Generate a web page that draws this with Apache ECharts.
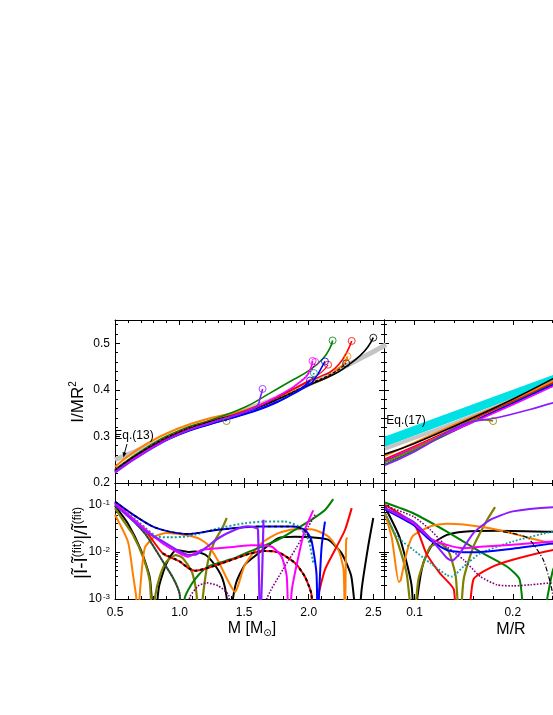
<!DOCTYPE html>
<html><head><meta charset="utf-8">
<script src="https://cdn.jsdelivr.net/npm/echarts@6/dist/echarts.min.js"></script>
<style>html,body{margin:0;padding:0;background:#fff}#c{width:553px;height:715px}</style>
</head><body><div id="c"></div>
<script>
// ---------- tick values ----------
const massTicks = [0.5, 1.0, 1.5, 2.0, 2.5];
const massMinor = [0.6,0.7,0.8,0.9,1.1,1.2,1.3,1.4,1.6,1.7,1.8,1.9,2.1,2.2,2.3,2.4];
const compTicks = [0.1, 0.2, 0.3];
const compMinor = [0.08,0.12,0.14,0.16,0.18,0.22,0.24,0.26,0.28,0.32,0.34];
const inertiaTicks = [0.2, 0.3, 0.4, 0.5];
const inertiaMinor = [0.22,0.24,0.26,0.28,0.32,0.34,0.36,0.38,0.42,0.44,0.46,0.48,0.52,0.54];
const devTicks = [0.001, 0.01, 0.1];
const devMinor = [0.002,0.003,0.004,0.005,0.006,0.007,0.008,0.009,0.02,0.03,0.04,0.05,0.06,0.07,0.08,0.09,0.2];

// ---------- top-left: I/MR^2 vs M ----------
const tlGray = [[0.5,0.25],[0.75,0.278],[1.0,0.308],[1.25,0.332],[1.5,0.356],[1.75,0.382],[2.0,0.412],[2.25,0.446],[2.5,0.482],[2.6,0.497]];
const tlBlack = [[0.5,0.226],[0.6,0.247],[0.75,0.273],[1.0,0.308],[1.25,0.332],[1.5,0.351],[1.75,0.378],[2.0,0.41],[2.2,0.434],[2.3,0.452],[2.4,0.474],[2.46,0.493],[2.5,0.512]];
const tlBlack2 = [[0.5,0.228],[0.75,0.275],[1.0,0.31],[1.25,0.333],[1.5,0.352],[1.75,0.379],[2.0,0.412],[2.2,0.438],[2.29,0.457]];
const tlRed = [[0.5,0.227],[0.75,0.274],[1.0,0.31],[1.25,0.333],[1.5,0.354],[1.75,0.383],[2.0,0.418],[2.1,0.43],[2.165,0.438],[2.24,0.457],[2.29,0.478],[2.333,0.505]];
const tlRed2 = [[0.5,0.227],[0.75,0.274],[1.0,0.31],[1.25,0.333],[1.5,0.354],[1.75,0.384],[2.0,0.42],[2.1,0.438],[2.15,0.454]];
const tlGreen = [[0.5,0.228],[0.75,0.277],[1.0,0.313],[1.25,0.336],[1.5,0.362],[1.7,0.393],[1.855,0.418],[2.01,0.443],[2.113,0.468],[2.165,0.49],[2.185,0.506]];
const tlBlue = [[0.5,0.224],[0.75,0.27],[1.0,0.305],[1.25,0.328],[1.5,0.348],[1.75,0.374],[2.0,0.41],[2.06,0.429],[2.09,0.443],[2.126,0.461]];
const tlBlue2 = [[0.5,0.223],[0.75,0.269],[1.0,0.304],[1.25,0.327],[1.5,0.347],[1.75,0.372],[1.95,0.405],[2.01,0.42]];
const tlOrange = [[0.5,0.235],[0.75,0.285],[1.0,0.318],[1.25,0.34],[1.5,0.356],[1.7,0.376],[1.9,0.398],[2.05,0.416],[2.165,0.43],[2.217,0.443],[2.28,0.458],[2.30,0.472]];
const tlMagenta = [[0.5,0.223],[0.75,0.27],[1.0,0.306],[1.25,0.33],[1.5,0.352],[1.75,0.385],[1.958,0.422],[2.01,0.443],[2.03,0.462]];
const tlPurple = [[0.5,0.222],[0.75,0.268],[1.0,0.305],[1.25,0.33],[1.5,0.352],[1.597,0.364],[1.623,0.382],[1.643,0.402]];
const tlOlive = [[0.5,0.23],[0.75,0.276],[1.0,0.31],[1.2,0.33],[1.3,0.338],[1.364,0.333]];
const tlTeal = [[0.5,0.225],[0.75,0.27],[1.0,0.305],[1.25,0.328],[1.5,0.349],[1.75,0.375],[2.0,0.415],[2.04,0.436]];
const tlPurpleDot = [[0.5,0.225],[0.75,0.272],[1.0,0.308],[1.25,0.331],[1.5,0.352],[1.75,0.382],[2.0,0.435],[2.05,0.46]];

// ---------- bottom-left: relative deviation vs M ----------
const blBlue = [[0.5,0.117],[0.64,0.0617],[0.79,0.0347],[0.92,0.0269],[1.065,0.024],[1.3,0.0295],[1.62,0.0347],[1.88,0.0347],[1.97,0.0295],[2.02,0.0182],[2.06,0.0035],[2.07,0.0002],[2.08,0.0012],[2.1,0.0129],[2.126,0.044]];
const blBlackDot = [[0.5,0.117],[0.64,0.0617],[0.79,0.0347],[0.92,0.0269],[1.065,0.024],[1.3,0.0295],[1.62,0.0347],[1.88,0.0347],[1.96,0.0302],[2.0,0.021],[2.025,0.0135]];
const blTeal = [[0.5,0.112],[0.74,0.0316],[0.82,0.0214],[0.92,0.0204],[1.065,0.0214],[1.3,0.0316],[1.507,0.0407],[1.66,0.044],[1.816,0.044],[1.92,0.0347],[1.997,0.0182],[2.035,0.0058]];
const blPurple = [[0.5,0.1],[0.74,0.0269],[0.87,0.0166],[1.0,0.0102],[1.065,0.0087],[1.12,0.0087],[1.2,0.012],[1.3,0.0195],[1.43,0.0295],[1.53,0.0347],[1.6,0.0316],[1.608,0.028],[1.625,0.0002],[1.65,0.048]];
const blMagenta = [[0.5,0.11],[0.74,0.0295],[0.87,0.0151],[1.0,0.0093],[1.065,0.0079],[1.17,0.011],[1.3,0.012],[1.43,0.0129],[1.56,0.0138],[1.71,0.013],[1.79,0.0079],[1.83,0.003],[1.845,0.0002],[1.87,0.0016],[1.92,0.0079],[1.97,0.0295],[2.02,0.0617],[2.035,0.076]];
const blGreen = [[0.5,0.11],[0.61,0.0562],[0.74,0.0229],[0.87,0.0063],[0.95,0.0028],[1.0,0.0013],[1.02,0.0002],[1.04,0.00105],[1.09,0.002],[1.145,0.0032],[1.22,0.0049],[1.3,0.0058],[1.43,0.0074],[1.507,0.0093],[1.636,0.0129],[1.765,0.0182],[1.894,0.0295],[2.02,0.0479],[2.126,0.0776],[2.19,0.132]];
const blPurpleDot = [[0.5,0.0955],[0.61,0.0562],[0.74,0.0229],[0.87,0.0063],[0.95,0.0028],[1.0,0.0013],[1.025,0.0002],[1.08,0.0011],[1.145,0.0019],[1.21,0.0022],[1.3,0.0019],[1.38,0.0012],[1.41,0.0002],[1.66,0.0002],[1.675,0.001],[1.8,0.0042],[1.9,0.0117],[2.0,0.0355],[2.05,0.0617]];
const blRed = [[0.5,0.105],[0.74,0.0269],[0.87,0.0093],[1.0,0.0063],[1.065,0.0046],[1.12,0.004],[1.2,0.0044],[1.3,0.0054],[1.43,0.0072],[1.55,0.0093],[1.65,0.0105],[1.765,0.0098],[1.894,0.0058],[1.97,0.003],[2.02,0.0013],[2.045,0.0002],[2.065,0.0009],[2.126,0.0042],[2.203,0.011],[2.28,0.0288],[2.333,0.085]];
const blBlackOnRed = [[0.87,0.0093],[1.0,0.0063],[1.065,0.0046],[1.12,0.004],[1.2,0.0044],[1.3,0.0054],[1.43,0.0072],[1.55,0.0093],[1.65,0.0105],[1.765,0.0098],[1.894,0.0058],[1.97,0.003],[2.02,0.0013],[2.045,0.0002]];
const blBlack = [[0.5,0.095],[0.6,0.04],[0.7,0.011],[0.77,0.0028],[0.805,0.0002],[0.84,0.0018],[0.9,0.0058],[0.975,0.011],[1.065,0.01],[1.12,0.0102],[1.2,0.0087],[1.27,0.0054],[1.33,0.0028],[1.365,0.00105],[1.38,0.0002],[1.41,0.0009],[1.44,0.0023],[1.507,0.0054],[1.61,0.0093],[1.765,0.0195],[1.894,0.0209],[2.02,0.0204],[2.15,0.0182],[2.255,0.0093],[2.33,0.003],[2.38,0.0002],[2.41,0.0016],[2.46,0.0129],[2.5,0.0525]];
const blOlive = [[0.5,0.0851],[0.56,0.0479],[0.64,0.0229],[0.72,0.0074],[0.77,0.0023],[0.79,0.0002],[0.81,0.0011],[0.85,0.0032],[0.9,0.0063],[0.97,0.0085],[1.02,0.0076],[1.06,0.0055],[1.1,0.0035],[1.13,0.0014],[1.155,0.0002],[1.18,0.0011],[1.22,0.0063],[1.27,0.0166],[1.33,0.0316],[1.365,0.0525]];
const blOrange = [[0.5,0.0617],[0.6,0.0166],[0.64,0.0032],[0.665,0.00105],[0.675,0.0002],[0.69,0.0011],[0.73,0.012],[0.81,0.0214],[0.9,0.0251],[1.04,0.0229],[1.145,0.0195],[1.22,0.0141],[1.30,0.0063],[1.38,0.0023],[1.43,0.0014],[1.455,0.002],[1.507,0.0054],[1.636,0.0155],[1.765,0.0251],[1.894,0.0302],[2.02,0.0302],[2.15,0.0214],[2.23,0.011],[2.27,0.0042],[2.28,0.0002],[2.29,0.0182],[2.30,0.02]];

// ---------- top-right: I/MR^2 vs M/R ----------
const trBandLow = [[0.07,0.278],[0.25,0.421]];
const trBandHigh = [[0.07,0.300],[0.25,0.439]];
const trGray = [[0.07,0.274],[0.1,0.297],[0.15,0.336],[0.2,0.378],[0.25,0.421]];
const trBlack = [[0.07,0.262],[0.1,0.285],[0.15,0.331],[0.2,0.38],[0.241,0.424],[0.26,0.445]];
const trOrange = [[0.07,0.258],[0.1,0.287],[0.15,0.334],[0.2,0.379],[0.241,0.419],[0.26,0.438]];
const trMagenta = [[0.07,0.25],[0.1,0.276],[0.15,0.322],[0.2,0.368],[0.241,0.408],[0.26,0.426]];
const trBlue = [[0.07,0.248],[0.1,0.275],[0.15,0.323],[0.2,0.371],[0.241,0.411],[0.26,0.43]];
const trGreen = [[0.07,0.24],[0.1,0.27],[0.15,0.322],[0.2,0.373],[0.241,0.414],[0.26,0.433]];
const trPurple = [[0.07,0.238],[0.1,0.267],[0.15,0.326],[0.184,0.34],[0.2175,0.358],[0.241,0.372],[0.26,0.382]];
const trRed = [[0.07,0.252],[0.1,0.279],[0.15,0.327],[0.2,0.376],[0.241,0.416],[0.26,0.435]];
const trTeal = [[0.07,0.245],[0.1,0.273],[0.15,0.321],[0.2,0.369],[0.241,0.407],[0.26,0.425]];
const trPurpleDot = [[0.07,0.243],[0.1,0.272],[0.15,0.322],[0.2,0.37],[0.241,0.41],[0.26,0.428]];
const trOlive = [[0.07,0.245],[0.1,0.273],[0.13,0.305],[0.153,0.333],[0.165,0.336],[0.18,0.333]];

// ---------- bottom-right: relative deviation vs M/R ----------
const brGreen = [[0.07,0.112],[0.0988,0.0661],[0.133,0.0269],[0.167,0.01],[0.194,0.0049],[0.207,0.0026],[0.214,0.0002],[0.226,0.0002],[0.241,0.0042],[0.25,0.008]];
const brBlack = [[0.07,0.09],[0.085,0.02],[0.097,0.002],[0.1,0.0002],[0.103,0.0011],[0.109,0.0058],[0.119,0.0151],[0.133,0.0229],[0.15,0.0269],[0.184,0.0282],[0.241,0.0269],[0.26,0.0269]];
const brBlackDashDot = [[0.19,0.027],[0.215,0.02],[0.231,0.0068],[0.24,0.0015],[0.243,0.0002]];
const brOlive = [[0.07,0.0661],[0.082,0.0182],[0.092,0.0035],[0.099,0.0002],[0.104,0.0026],[0.116,0.0129],[0.126,0.0151],[0.135,0.01],[0.142,0.003],[0.146,0.0002],[0.15,0.0026],[0.16,0.0129],[0.174,0.0479],[0.182,0.0891]];
const brOrange = [[0.07,0.0661],[0.077,0.0195],[0.084,0.0023],[0.086,0.0025],[0.091,0.0079],[0.098,0.0214],[0.116,0.0347],[0.133,0.0398],[0.15,0.038],[0.184,0.0295],[0.218,0.0195],[0.241,0.0151],[0.26,0.014]];
const brPurple = [[0.07,0.0851],[0.099,0.0437],[0.116,0.0195],[0.133,0.0074],[0.138,0.0065],[0.146,0.0093],[0.16,0.0251],[0.177,0.0479],[0.2,0.0724],[0.241,0.0891],[0.26,0.09]];
const brMagenta = [[0.07,0.0851],[0.099,0.0407],[0.116,0.0195],[0.133,0.0141],[0.15,0.012],[0.167,0.0129],[0.2,0.0141],[0.241,0.0166],[0.26,0.017]];
const brBlue = [[0.07,0.08],[0.099,0.0372],[0.116,0.0178],[0.133,0.011],[0.15,0.0098],[0.167,0.01],[0.2,0.0117],[0.241,0.0151],[0.26,0.0155]];
const brTeal = [[0.07,0.0661],[0.082,0.0214],[0.099,0.011],[0.116,0.0058],[0.133,0.0032],[0.138,0.003],[0.15,0.0049],[0.167,0.0093],[0.2,0.0166],[0.241,0.0269],[0.26,0.028]];
const brPurpleDot = [[0.07,0.0955],[0.099,0.0562],[0.116,0.0295],[0.133,0.0129],[0.15,0.0068],[0.167,0.003],[0.184,0.002],[0.2,0.0019],[0.218,0.002],[0.241,0.0022],[0.26,0.0022]];
const brRed = [[0.07,0.1],[0.1,0.038],[0.112,0.0093],[0.126,0.0035],[0.14,0.0016],[0.143,0.0002],[0.153,0.0002],[0.16,0.0026],[0.177,0.0046],[0.2,0.0068],[0.241,0.011],[0.26,0.012]];

// ---------- styling ----------
const FONT = '"Liberation Sans", Arial, Helvetica, sans-serif';
const COL = {black:'#000000', red:'#ff0000', green:'#008000', blue:'#0000ff', orange:'#ff8000',
  magenta:'#ff00ff', purple:'#8a1cff', olive:'#808000', teal:'#139a9a', pdot:'#800080',
  gray:'#c4c4c4', cyan:'#00e1e6'};

const gridDefs = [
  {left:115, top:320, width:269, height:163},
  {left:115, top:483, width:269, height:116},
  {left:384, top:320, width:270, height:163},
  {left:384, top:483, width:270, height:116}
];
const xRange = [[0.5,2.583],[0.5,2.583],[0.069,0.3437],[0.069,0.3437]];
const yRange = [[0.2,0.55],[0.001,0.29],[0.2,0.55],[0.001,0.29]];
const yType = ['value','log','value','log'];

function axis(grid, type, range, pos, values, len, showLine, label) {
  const a = {gridIndex:grid, type:type, min:range[0], max:range[1], position:pos,
    axisLine:{show:showLine, onZero:false, lineStyle:{color:'#000', width:1}},
    axisTick:{show:true, inside:true, length:len, customValues:values, lineStyle:{color:'#000', width:1}},
    axisLabel: label ? Object.assign({show:true, customValues:values, color:'#000', fontSize:12,
      fontFamily:FONT, hideOverlap:false}, label) : {show:false},
    splitLine:{show:false}, minorTick:{show:false}, minorSplitLine:{show:false}, splitArea:{show:false}};
  if (type === 'log') a.logBase = 10;
  return a;
}
const xAxes = [], yAxes = [];
const fmt1 = v => v.toFixed(1);
const logFmt = v => '10{s|' + Math.round(Math.log10(v)) + '}';
const logRich = {s:{fontSize:8, verticalAlign:'top', lineHeight:8, fontFamily:FONT, color:'#000', padding:[0,0,0,1]}};
for (let g = 0; g < 4; g++) {
  const isMass = g < 2;
  const xMaj = isMass ? massTicks : compTicks, xMin = isMass ? massMinor : compMinor;
  const xLab = (g === 1 || g === 3) ? {formatter: fmt1, margin: 8} : null;
  xAxes.push(axis(g,'value',xRange[g],'bottom',xMaj,5,true,xLab));
  xAxes.push(axis(g,'value',xRange[g],'bottom',xMin,3,false,null));
  xAxes.push(axis(g,'value',xRange[g],'top',xMaj,5,true,null));
  xAxes.push(axis(g,'value',xRange[g],'top',xMin,3,false,null));
  const isLog = yType[g] === 'log';
  const yMaj = isLog ? devTicks : inertiaTicks, yMin = isLog ? devMinor : inertiaMinor;
  let yLab = null;
  if (g === 0) yLab = {formatter: fmt1, margin: 5};
  if (g === 1) yLab = {formatter: logFmt, rich: logRich, margin: 5};
  yAxes.push(axis(g,yType[g],yRange[g],'left',yMaj,5,true,yLab));
  yAxes.push(axis(g,yType[g],yRange[g],'left',yMin,3,false,null));
  yAxes.push(axis(g,yType[g],yRange[g],'right',yMaj,5,true,null));
  yAxes.push(axis(g,yType[g],yRange[g],'right',yMin,3,false,null));
}

const series = [];
function line(g, data, color, width, type, z) {
  const isLog = yType[g] === 'log';
  series.push({type:'line', xAxisIndex:g*4, yAxisIndex:g*4, data:data, showSymbol:false,
    symbol:'none', smooth: isLog ? 0.2 : 0.5, clip:true, silent:true, animation:false,
    z: z || 2,
    lineStyle:{color:color, width:width, type:type || 'solid', cap:'butt', join:'round'}});
}
function endMark(g, data, color) {
  series.push({type:'scatter', xAxisIndex:g*4, yAxisIndex:g*4, data:[data[data.length-1]],
    symbol:'circle', symbolSize:7, silent:true, animation:false, z:5,
    itemStyle:{color:'rgba(255,255,255,0)', borderColor:color, borderWidth:1}});
}

// top-left
line(0, tlGray, COL.gray, 5);
line(0, tlOrange, COL.orange, 2);
line(0, tlOlive, COL.olive, 1.6);
line(0, tlGreen, COL.green, 1.6);
line(0, tlRed2, COL.red, 1.2);
line(0, tlRed, COL.red, 1.6);
line(0, tlBlack2, COL.black, 1.2, [3,2]);
line(0, tlBlack, COL.black, 1.6);
line(0, tlTeal, COL.teal, 1.6, 'dotted');
line(0, tlBlue2, COL.blue, 1.4);
line(0, tlBlue, COL.blue, 1.6);
line(0, tlPurpleDot, COL.pdot, 1.4, 'dotted');
line(0, tlMagenta, COL.magenta, 1.6);
line(0, tlPurple, COL.purple, 1.6);
[[tlGreen,COL.green],[tlRed,COL.red],[tlRed2,COL.red],[tlBlack,COL.black],[tlBlack2,COL.black],
 [tlOrange,COL.orange],[tlBlue,COL.blue],[tlBlue2,COL.blue],[tlMagenta,COL.magenta],
 [tlPurpleDot,COL.magenta],[tlTeal,COL.teal],[tlPurple,COL.purple],[tlOlive,COL.olive]].forEach(p => endMark(0, p[0], p[1]));

// bottom-left
line(1, blBlack, COL.black, 2);
line(1, blOlive, COL.olive, 2.2);
line(1, blOrange, COL.orange, 2);
line(1, blGreen, COL.green, 2);
line(1, blPurpleDot, COL.pdot, 1.6, 'dotted');
line(1, blRed, COL.red, 2);
line(1, blBlackOnRed, COL.black, 2, [3,3]);
line(1, blTeal, COL.teal, 2, 'dotted');
line(1, blMagenta, COL.magenta, 2);
line(1, blBlue, COL.blue, 2);
line(1, blBlackDot, COL.black, 1.4, [3,3]);
line(1, blPurple, COL.purple, 2.2);

// top-right
series.push({type:'custom', xAxisIndex:8, yAxisIndex:8, data:[trBandLow[0]], silent:true, animation:false, z:1, clip:true,
  renderItem: function(params, api) {
    const pts = trBandHigh.map(p => api.coord(p)).concat(trBandLow.slice().reverse().map(p => api.coord(p)));
    return {type:'polygon', shape:{points:pts}, style:{fill:COL.cyan}};
  }});
line(2, trGray, COL.gray, 4);
line(2, trGreen, COL.green, 1.6);
line(2, trPurpleDot, COL.pdot, 1.4, 'dotted');
line(2, trTeal, COL.teal, 1.4, 'dotted');
line(2, trBlue, COL.blue, 1.6);
line(2, trMagenta, COL.magenta, 1.6);
line(2, trRed, COL.red, 1.4);
line(2, trOlive, COL.olive, 1.6);
line(2, trOrange, COL.orange, 1.8);
line(2, trBlack, COL.black, 1.6);
line(2, trPurple, COL.purple, 1.6);
endMark(2, trOlive, COL.olive);

// bottom-right
line(3, brBlack, COL.black, 2);
line(3, brOlive, COL.olive, 2.2);
line(3, brGreen, COL.green, 2);
line(3, brOrange, COL.orange, 2);
line(3, brRed, COL.red, 2);
line(3, brPurpleDot, COL.pdot, 1.6, 'dotted');
line(3, brTeal, COL.teal, 1.8, 'dotted');
line(3, brBlue, COL.blue, 2);
line(3, brMagenta, COL.magenta, 2);
line(3, brPurple, COL.purple, 2);
line(3, brBlackDashDot, COL.black, 1.2, [5,2,1,2]);

const F = (size, fam) => size + 'px ' + (fam || FONT);
const txt = (x, y, text, size, rich, rot) => ({type:'text', x:x, y:y, rotation: rot || 0, silent:true, z:10,
  style:{text:text, fill:'#000', fontSize:size, fontFamily:FONT, align:'center', verticalAlign:'middle', rich: rich || undefined}});
const graphic = [
  txt(78, 402, '{b|I/MR}{s|2}', 16,
      {s:{font:F(10), verticalAlign:'top', lineHeight:10, fill:'#000'},
       b:{font:F(17), lineHeight:19, fill:'#000'}}, Math.PI/2),
  txt(82, 543, '{b||Ĩ-Ĩ}{s|(fit)}{b||/Ĩ}{s|(fit)}', 19,
      {s:{font:F(12), verticalAlign:'top', lineHeight:12, fill:'#000'},
       b:{font:F(19), lineHeight:21, fill:'#000'}}, Math.PI/2),
  txt(252, 629, '{b|M [M}{u|⊙}{b|]}', 16,
      {b:{font:F(16), lineHeight:18, fill:'#000'},
       u:{font:F(10, '"DejaVu Sans", sans-serif'), verticalAlign:'bottom', lineHeight:10, padding:[6,0,0,0], fill:'#000'}}),
  txt(511, 630, 'M/R', 16),
  txt(134, 436, 'Eq.(13)', 12),
  txt(406, 421, 'Eq.(17)', 12),
  {type:'line', silent:true, z:10, shape:{x1:127, y1:444, x2:124.5, y2:453}, style:{stroke:'#000', lineWidth:1}},
  {type:'polygon', silent:true, z:10, shape:{points:[[122.5,452],[126.5,453],[123.5,457.5]]}, style:{fill:'#000'}}
];

const chart = echarts.init(document.getElementById('c'), null, {renderer:'canvas'});
chart.setOption({
  animation:false,
  backgroundColor:'#fff',
  grid: gridDefs.map(g => Object.assign({containLabel:false, outerBoundsMode:'none', show:false}, g)),
  xAxis: xAxes,
  yAxis: yAxes,
  series: series,
  graphic: graphic
});
</script>
</body></html>
